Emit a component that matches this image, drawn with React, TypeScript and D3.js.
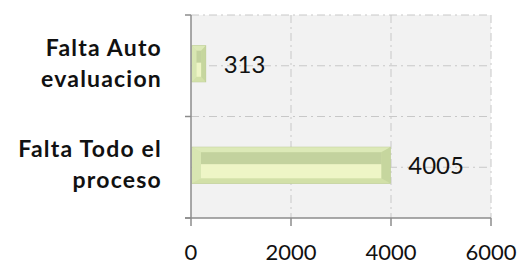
import React, { useEffect, useRef } from 'react';
import * as d3 from 'd3';

const categories = [['Falta Auto', 'evaluacion'], ['Falta Todo el', 'proceso']];
const values = [313, 4005];
const ticks = [0, 2000, 4000, 6000];

const App = () => {
  const ref = useRef<SVGSVGElement>(null);

  const width = 522;
  const height = 265;
  const margin = { top: 15, right: 31, bottom: 47, left: 191 };

  useEffect(() => {
    const svg = d3.select(ref.current);
    svg.selectAll('*').remove();

    const x = d3.scaleLinear().domain([0, 6000]).range([margin.left, width - margin.right]);
    const y = d3
      .scaleBand()
      .domain(categories.map((c) => c.join(' ')))
      .range([margin.top, height - margin.bottom]);

    // plot background
    svg
      .append('rect')
      .attr('x', x(0))
      .attr('y', margin.top)
      .attr('width', x(6000) - x(0))
      .attr('height', height - margin.bottom - margin.top)
      .attr('fill', '#f2f2f2');

    // gridlines
    const grid = svg.append('g').attr('stroke', '#c8c8c8').attr('stroke-dasharray', '8,4,2,4');
    ticks.slice(1).forEach((t) => {
      grid.append('line').attr('x1', x(t)).attr('x2', x(t))
        .attr('y1', margin.top).attr('y2', height - margin.bottom);
    });
    const hLines = [margin.top];
    y.domain().forEach((d) => {
      hLines.push(y(d)! + y.bandwidth() / 2);
      hLines.push(y(d)! + y.bandwidth());
    });
    hLines.slice(0, -1).forEach((v) => {
      grid.append('line').attr('x1', x(0)).attr('x2', x(6000)).attr('y1', v).attr('y2', v);
    });

    // bars with bevel look
    const barH = 36;
    const bars = svg.append('g');
    values.forEach((v, i) => {
      const key = categories[i].join(' ');
      const cy = y(key)! + y.bandwidth() / 2 - 2;
      const x0 = x(0) + 1;
      const x1 = x(v) - 1;
      const y0 = cy - barH / 2;
      const y1 = cy + barH / 2;
      const bx = Math.min(9, (x1 - x0) / 3);
      const by = 5;
      const g = bars.append('g');
      g.append('rect').attr('x', x0).attr('y', y0).attr('width', x1 - x0).attr('height', barH)
        .attr('fill', '#d5e3ac').attr('stroke', '#bccb94').attr('stroke-width', 1);
      // top bevel
      g.append('polygon')
        .attr('points', `${x0},${y0} ${x1},${y0} ${x1 - bx},${y0 + by} ${x0 + bx},${y0 + by}`)
        .attr('fill', '#dce9b7');
      // bottom bevel
      g.append('polygon')
        .attr('points', `${x0},${y1} ${x1},${y1} ${x1 - bx},${y1 - by} ${x0 + bx},${y1 - by}`)
        .attr('fill', '#d2e0a8');
      // left bevel
      g.append('polygon')
        .attr('points', `${x0},${y0} ${x0 + bx},${y0 + by} ${x0 + bx},${y1 - by} ${x0},${y1}`)
        .attr('fill', '#d8e6b2');
      // right bevel
      g.append('polygon')
        .attr('points', `${x1},${y0} ${x1 - bx},${y0 + by} ${x1 - bx},${y1 - by} ${x1},${y1}`)
        .attr('fill', '#c6d69e');
      // face
      const midY = cy - 1;
      g.append('rect').attr('x', x0 + bx).attr('y', y0 + by).attr('width', Math.max(0, x1 - x0 - 2 * bx))
        .attr('height', midY - (y0 + by)).attr('fill', '#c3d29e');
      g.append('rect').attr('x', x0 + bx).attr('y', midY).attr('width', Math.max(0, x1 - x0 - 2 * bx))
        .attr('height', y1 - by - midY).attr('fill', '#eef5c6');

      svg.append('text')
        .attr('x', x(v) + 17)
        .attr('y', cy + 9)
        .attr('font-family', 'Lato')
        .attr('font-size', 24)
        .attr('fill', '#111')
        .text(v);
    });

    // axes
    const axisColor = '#8c8c8c';
    const axes = svg.append('g').attr('stroke', axisColor).attr('stroke-width', 1.5);
    axes.append('line').attr('x1', x(0)).attr('x2', x(0))
      .attr('y1', margin.top).attr('y2', height - margin.bottom);
    axes.append('line').attr('x1', x(0) - 6).attr('x2', x(6000))
      .attr('y1', height - margin.bottom).attr('y2', height - margin.bottom);
    [margin.top, ...y.domain().map((d) => y(d)! + y.bandwidth())].forEach((v) => {
      axes.append('line').attr('x1', x(0) - 6).attr('x2', x(0)).attr('y1', v).attr('y2', v);
    });
    ticks.forEach((t) => {
      axes.append('line').attr('x1', x(t)).attr('x2', x(t))
        .attr('y1', height - margin.bottom).attr('y2', height - margin.bottom + 8);
      svg.append('text')
        .attr('x', x(t))
        .attr('y', 260)
        .attr('text-anchor', 'middle')
        .attr('font-family', 'Lato')
        .attr('font-size', 22)
        .attr('fill', '#111')
        .text(t);
    });

    // category labels
    categories.forEach((lines, i) => {
      const key = lines.join(' ');
      const cy = y(key)! + y.bandwidth() / 2;
      const t = svg.append('text')
        .attr('text-anchor', 'end')
        .attr('font-family', 'Lato')
        .attr('font-weight', 'bold')
        .attr('font-size', 23)
        .attr('letter-spacing', 1.2)
        .attr('fill', '#111');
      lines.forEach((l, j) => {
        t.append('tspan').attr('x', 162).attr('y', cy - 10 + j * 31).text(l);
      });
    });
  }, []);

  return (
    <svg
      ref={ref}
      width={width}
      height={height}
      style={{ position: 'absolute', left: 0, top: 0, background: '#fff' }}
    />
  );
};

export default App;
